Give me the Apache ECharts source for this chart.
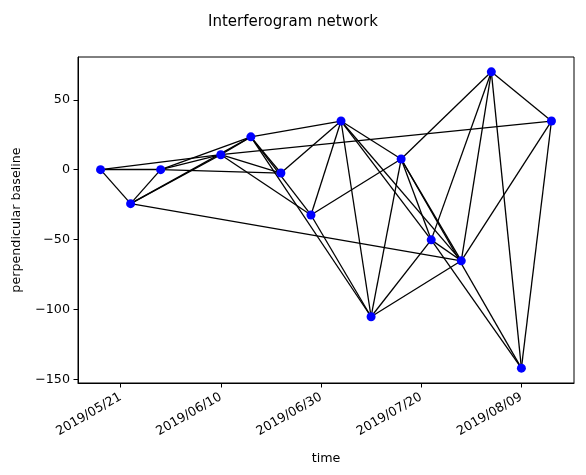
<!DOCTYPE html>
<html>
<head>
<meta charset="utf-8">
<script src="https://cdn.jsdelivr.net/npm/echarts@6/dist/echarts.min.js"></script>
<style>
html,body{margin:0;padding:0;background:#fff;}
#chart{width:586px;height:475px;}
</style>
</head>
<body>
<div id="chart"></div>
<script>
// Acquisition dates and perpendicular baselines (m)
const acqDates = ['2019-05-17','2019-05-23','2019-05-29','2019-06-10','2019-06-16','2019-06-22','2019-06-28','2019-07-04','2019-07-10','2019-07-16','2019-07-22','2019-07-28','2019-08-03','2019-08-09','2019-08-15'];
const bperp = [0, -24.3, 0, 10.7, 23.5, -2.4, -32.4, 34.8, -105.2, 7.6, -50.2, -65.2, 70, -142, 34.8];
// Interferogram pairs (indices into acqDates)
const pairs = [
  [0,1],[0,2],[0,3],[1,2],[1,3],[1,4],[1,11],[2,3],[2,4],[2,5],
  [3,4],[3,5],[3,6],[3,14],[4,5],[4,7],[4,6],[4,8],[5,7],[6,7],
  [6,8],[6,9],[7,8],[7,9],[7,10],[7,11],[8,9],[8,10],[8,11],[9,10],
  [9,11],[9,12],[9,13],[10,11],[10,12],[10,13],[11,12],[11,14],[12,13],[12,14],[13,14]
];
// Axis tick labels
const xTickLabels = ['2019/05/21','2019/06/10','2019/06/30','2019/07/20','2019/08/09'];
const yTicks = [-150, -100, -50, 0, 50];

const DAY = 86400000;
function dayNum(s){ return Date.parse(s.replace(/\//g,'-') + 'T00:00:00Z') / DAY; }
function fmtDay(v){
  const d = new Date(Math.round(v) * DAY);
  const p = n => String(n).padStart(2,'0');
  return d.getUTCFullYear() + '/' + p(d.getUTCMonth()+1) + '/' + p(d.getUTCDate());
}
const xs = acqDates.map(dayNum);
const xTicks = xTickLabels.map(dayNum);
const pts = xs.map((x,i) => [x, bperp[i]]);
const xMin = Math.min(...xs), xMax = Math.max(...xs);
const yMin = Math.min(...bperp), yMax = Math.max(...bperp);
const xPad = 0.05*(xMax-xMin), yPad = 0.05*(yMax-yMin);

const FONT = 'DejaVu Sans';
const chart = echarts.init(document.getElementById('chart'), null, {renderer:'canvas'});
chart.setOption({
  animation: false,
  backgroundColor: '#fff',
  title: {
    text: 'Interferogram network', left: 'center', top: 10,
    textStyle: {fontFamily: FONT, fontSize: 15, fontWeight: 'normal', color: '#000'}
  },
  grid: {left: 78, right: 12, top: 57, bottom: 92, show: true, borderColor: '#000', borderWidth: 1, backgroundColor: 'transparent'},
  xAxis: {
    type: 'value', min: xMin - xPad, max: xMax + xPad,
    name: 'time', nameLocation: 'middle', nameGap: 69,
    nameTextStyle: {fontFamily: FONT, fontSize: 12.7, color: '#000'},
    axisLine: {show: true, onZero: false, lineStyle: {color: '#000', width: 1}},
    axisTick: {show: true, length: 4.5, customValues: xTicks, lineStyle: {color: '#000'}},
    axisLabel: {customValues: xTicks, formatter: v => fmtDay(v), rotate: 30, margin: 13,
      fontFamily: FONT, fontSize: 12.7, color: '#000'},
    splitLine: {show: false}
  },
  yAxis: {
    type: 'value', min: yMin - yPad, max: yMax + yPad,
    name: 'perpendicular baseline', nameLocation: 'middle', nameGap: 55, nameRotate: 90,
    nameTextStyle: {fontFamily: FONT, fontSize: 12.7, color: '#000'},
    axisLine: {show: true, onZero: false, lineStyle: {color: '#000', width: 1}},
    axisTick: {show: true, length: 4.5, customValues: yTicks, lineStyle: {color: '#000'}},
    axisLabel: {customValues: yTicks, formatter: v => String(v).replace('-', '\u2212'), margin: 8,
      fontFamily: FONT, fontSize: 12.7, color: '#000'},
    splitLine: {show: false}
  },
  series: [
    {
      type: 'lines', coordinateSystem: 'cartesian2d', silent: true, z: 2,
      lineStyle: {color: '#000', width: 1.3, opacity: 1},
      data: pairs.map(([a,b]) => ({coords: [pts[a], pts[b]]}))
    },
    {
      type: 'scatter', symbol: 'circle', symbolSize: 9, z: 3, silent: true,
      itemStyle: {color: '#0000ff', opacity: 1},
      data: pts
    }
  ]
});
</script>
</body>
</html>
